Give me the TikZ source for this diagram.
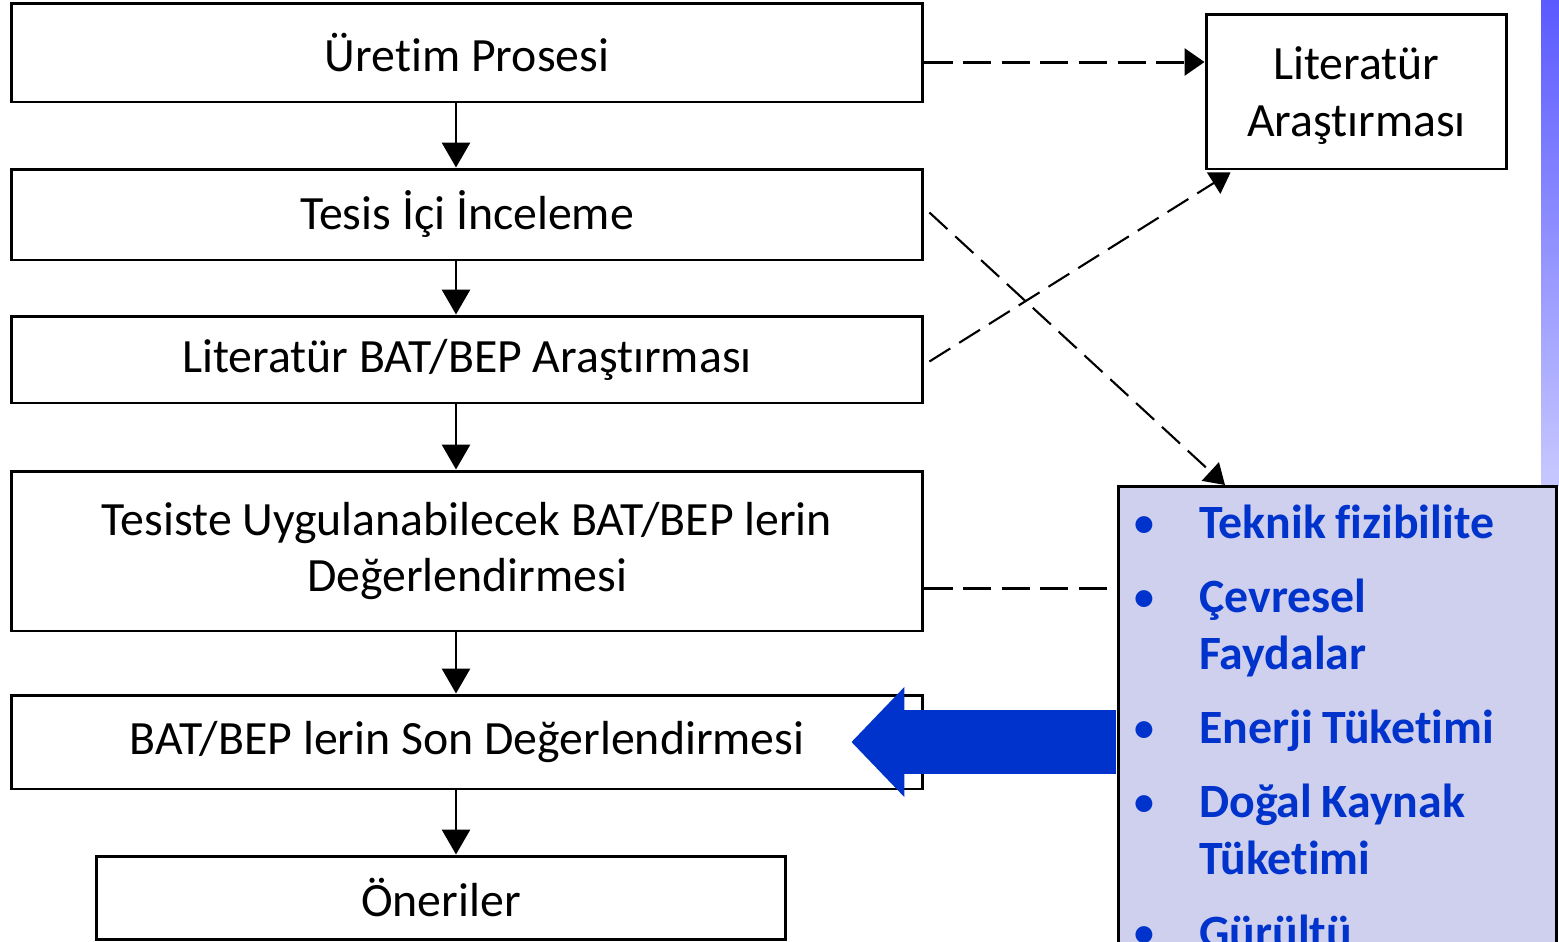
\documentclass[tikz,border=0pt]{standalone}
\usepackage{fontspec}
\setmainfont{Carlito}[Ligatures=NoCommon]
\usepackage{enumitem}
\usepackage{tikz}
\usetikzlibrary{arrows.meta,positioning,calc}
\definecolor{lsBlue}{HTML}{0033CC}
\definecolor{lsFill}{HTML}{CFCFEE}
\definecolor{lsTop}{HTML}{5A5AFF}
\definecolor{lsBot}{HTML}{C8C8FF}

\begin{document}
\begin{tikzpicture}[x=0.02cm,y=-0.02cm,
  font=\fontsize{27.2}{32.3}\selectfont,
  bx/.style={draw=black,fill=white,line width=1.7pt,minimum width=18.24cm,align=center,inner sep=0pt},
  ar/.style={-{Triangle[length=0.5cm,width=0.56cm]},black,line width=1.7pt},
  da/.style={black,line width=1.7pt,dash pattern=on 16pt off 6pt},
  dd/.style={-{Triangle[length=0.4cm,width=0.5cm]},black,line width=1.2pt,dash pattern=on 14pt off 6pt}]
\clip (0,0) rectangle (1559,941);
\shade[top color=lsTop,bottom color=lsBot] (1541,0) rectangle (1559,485);
\node[bx,minimum height=1.98cm] (b1) at (467,52.5)  {Üretim Prosesi};
\node[bx,minimum height=1.82cm] (b2) at (467,214.5) {Tesis İçi İnceleme};
\node[bx,minimum height=1.74cm] (b3) at (467,359.5) {Literatür BAT/BEP Araştırması};
\node[bx,minimum height=3.2cm]  (b4) at (467,551)   {Tesiste Uygulanabilecek BAT/BEP lerin\\ Değerlendirmesi};
\node[bx,minimum height=1.88cm] (b5) at (467,742)   {BAT/BEP lerin Son Değerlendirmesi};
\node[bx,minimum height=1.66cm,minimum width=13.8cm] (b6) at (441,897.5) {Öneriler};
\node[bx,minimum height=3.1cm,minimum width=6.02cm,text depth=-0.25cm] (lit) at (1356.5,91.5) {Literatür\\ Araştırması};
\node[draw=black,fill=lsFill,line width=1.5pt,anchor=north west,text width=8.76cm,align=left,
      inner xsep=0pt,inner ysep=0pt,text=lsBlue,font=\fontsize{27.2}{32.3}\selectfont\bfseries]
  (list) at (1117,485) {%
  \spaceskip=0.2em plus 0.1em minus 0.05em\relax
  \vspace*{-0.1cm}
  \begin{itemize}[leftmargin=1.62cm,labelsep=0.86cm,rightmargin=0.5cm,itemsep=10pt,topsep=0pt,partopsep=0pt,parsep=0pt]
  \item Teknik fizibilite
  \item Çevresel Faydalar
  \item Enerji Tüketimi
  \item Doğal Kaynak Tüketimi
  \item Gürültü
  \end{itemize}};
\coordinate (ax) at (456,0);
\foreach \u/\v in {b1/b2,b2/b3,b3/b4,b4/b5,b5/b6}
  \draw[ar] (\u.south -| ax) -- (\v.north -| ax);
\draw[da,-{Triangle[length=0.4cm,width=0.54cm]}] (b1.east |- 0,62) -- (lit.west |- 0,62);
\draw[dd] ($(b3.east)+(5,2)$) -- ($(lit.south west)+(26,2)$);
\draw[dd] ($(b2.east)+(5,-2)$) -- ($(list.north west)+(108,0)$);
\draw[da] (b4.east |- 0,588) -- (list.west |- 0,588);
\draw[lsBlue,line width=1.28cm,shorten <=0.75pt,-{Triangle[length=1.06cm,width=2.14cm]}] (list.west |- b5.east) -- ($(b5.east)+(-73,0)$);
\end{tikzpicture}
\end{document}
